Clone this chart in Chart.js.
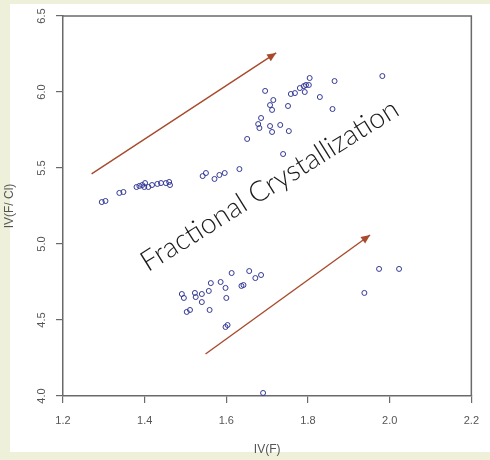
<!DOCTYPE html>
<html lang="en">
<head>
  <meta charset="UTF-8" />
  <title>Fractional Crystallization</title>
  <script src="https://cdn.jsdelivr.net/npm/chart.js"></script>
  <style>
    body { margin: 0; background: #eef0da; }
    canvas { display: block; }
  </style>
</head>
<body>
  <canvas id="chart" width="490" height="460"></canvas>

  <script>
    // tick labels
    const xTicks = [1.2, 1.4, 1.6, 1.8, 2.0, 2.2];
    const yTicks = [4.0, 4.5, 5.0, 5.5, 6.0, 6.5];

    // IV(F) and IV(F/Cl)
    const ivF = [
      1.295, 1.304, 1.338, 1.348, 1.380, 1.387, 1.394, 1.401, 1.399, 1.409, 1.418,
      1.431, 1.440, 1.452, 1.460, 1.462, 1.542, 1.550, 1.571, 1.583, 1.596, 1.632,
      1.651, 1.678, 1.681, 1.685, 1.695, 1.707, 1.715, 1.712, 1.707, 1.712, 1.732,
      1.739, 1.751, 1.753, 1.758, 1.768, 1.780, 1.790, 1.795, 1.802, 1.804, 1.792,
      1.829, 1.860, 1.865, 1.982,
      1.491, 1.496, 1.503, 1.511, 1.523, 1.525, 1.540, 1.540, 1.557, 1.559, 1.562,
      1.586, 1.598, 1.600, 1.598, 1.603, 1.613, 1.637, 1.642, 1.656, 1.671, 1.685,
      1.690, 1.938, 1.974, 2.023
    ];
    const ivFCl = [
      5.276, 5.283, 5.336, 5.342, 5.375, 5.382, 5.388, 5.401, 5.375, 5.375, 5.388,
      5.395, 5.401, 5.401, 5.408, 5.388, 5.447, 5.467, 5.428, 5.454, 5.467, 5.493,
      5.691, 5.789, 5.763, 5.829, 6.007, 5.914, 5.947, 5.882, 5.776, 5.737, 5.783,
      5.592, 5.908, 5.743, 5.987, 5.993, 6.026, 6.039, 6.046, 6.046, 6.092, 6.000,
      5.967, 5.888, 6.072, 6.105,
      4.671, 4.645, 4.553, 4.566, 4.678, 4.651, 4.671, 4.618, 4.691, 4.566, 4.743,
      4.750, 4.711, 4.645, 4.454, 4.467, 4.809, 4.724, 4.730, 4.822, 4.776, 4.796,
      4.020, 4.678, 4.836, 4.836
    ];

    // trend arrows (start, end)
    const arrowUpperX = [1.270, 1.722];
    const arrowUpperY = [5.461, 6.257];
    const arrowLowerX = [1.549, 1.952];
    const arrowLowerY = [4.276, 5.059];

    const noteText = "Fractional Crystallization";
    const noteX = 1.706, noteY = 5.385, noteAngle = -32;

    const arrowColor = '#a84a2c';
    const axisColor = '#6a6a6a';
    const labelColor = '#555';

    const toPoints = (xs, ys) => xs.map((x, i) => ({ x, y: ys[i] }));

    const extras = {
      id: 'extras',
      beforeDraw(chart) {
        const ctx = chart.ctx;
        ctx.save();
        ctx.fillStyle = '#ffffff';
        ctx.fillRect(10, 4, 480, 448);
        ctx.restore();
      },
      afterDatasetsDraw(chart) {
        const ctx = chart.ctx;
        // arrow heads
        [1, 2].forEach(i => {
          const pts = chart.getDatasetMeta(i).data;
          const a = pts[0], b = pts[1];
          const ang = Math.atan2(b.y - a.y, b.x - a.x);
          const len = 9, w = 4;
          ctx.save();
          ctx.fillStyle = arrowColor;
          ctx.translate(b.x, b.y);
          ctx.rotate(ang);
          ctx.beginPath();
          ctx.moveTo(0, 0);
          ctx.lineTo(-len, -w);
          ctx.lineTo(-len, w);
          ctx.closePath();
          ctx.fill();
          ctx.restore();
        });

        // annotation text
        const xs = chart.scales.x, ys = chart.scales.y;
        ctx.save();
        ctx.translate(xs.getPixelForValue(noteX), ys.getPixelForValue(noteY));
        ctx.rotate(noteAngle * Math.PI / 180);
        ctx.font = '300 24px Lato, "Open Sans", sans-serif';
        const wNow = ctx.measureText(noteText).width;
        const size = 24 * 298 / wNow;
        ctx.font = '300 ' + size.toFixed(1) + 'px Lato, "Open Sans", sans-serif';
        ctx.fillStyle = '#1a1a1a';
        ctx.textAlign = 'center';
        ctx.textBaseline = 'middle';
        ctx.fillText(noteText, 0, 0);
        ctx.restore();
      },
      afterDraw(chart) {
        const ctx = chart.ctx;
        const area = chart.chartArea;
        const ys = chart.scales.y;
        ctx.save();
        // top and right frame lines
        ctx.strokeStyle = axisColor;
        ctx.lineWidth = 1.5;
        ctx.beginPath();
        ctx.moveTo(area.left, area.top);
        ctx.lineTo(area.right, area.top);
        ctx.lineTo(area.right, area.bottom);
        ctx.stroke();

        // rotated y tick labels
        ctx.fillStyle = labelColor;
        ctx.font = '11px "Liberation Sans", Arial, sans-serif';
        ctx.textAlign = 'center';
        ctx.textBaseline = 'middle';
        yTicks.forEach(v => {
          ctx.save();
          ctx.translate(42, ys.getPixelForValue(v));
          ctx.rotate(-Math.PI / 2);
          ctx.fillText(v.toFixed(1), 0, 0);
          ctx.restore();
        });

        // axis titles
        ctx.font = '12px "Liberation Sans", Arial, sans-serif';
        ctx.fillText('IV(F)', (area.left + area.right) / 2, 450);
        ctx.save();
        ctx.translate(10, (area.top + area.bottom) / 2);
        ctx.rotate(-Math.PI / 2);
        ctx.fillText('IV(F/ Cl)', 0, 0);
        ctx.restore();
        ctx.restore();
      }
    };

    new Chart(document.getElementById('chart'), {
      type: 'scatter',
      data: {
        datasets: [
          {
            data: toPoints(ivF, ivFCl),
            pointStyle: 'circle',
            pointRadius: 2.5,
            borderColor: '#353a96',
            backgroundColor: 'rgba(0,0,0,0)',
            borderWidth: 1
          },
          {
            type: 'line',
            data: toPoints(arrowUpperX, arrowUpperY),
            borderColor: arrowColor,
            borderWidth: 1.4,
            pointRadius: 0
          },
          {
            type: 'line',
            data: toPoints(arrowLowerX, arrowLowerY),
            borderColor: arrowColor,
            borderWidth: 1.4,
            pointRadius: 0
          }
        ]
      },
      options: {
        responsive: false,
        animation: false,
        devicePixelRatio: 1,
        layout: { padding: { left: 0, right: 16, top: 16, bottom: 0 } },
        plugins: {
          legend: { display: false },
          tooltip: { enabled: false }
        },
        scales: {
          x: {
            type: 'linear',
            min: 1.2,
            max: 2.2,
            afterBuildTicks: s => { s.ticks = xTicks.map(v => ({ value: v })); },
            afterFit: s => { s.height = 64; },
            ticks: {
              callback: v => Number(v).toFixed(1),
              color: labelColor,
              font: { size: 11, family: '"Liberation Sans", Arial, sans-serif' },
              padding: 11,
              maxRotation: 0,
              autoSkip: false
            },
            grid: { drawOnChartArea: false, tickLength: 7, color: axisColor, lineWidth: 1.2 },
            border: { color: axisColor, width: 1.5 }
          },
          y: {
            type: 'linear',
            min: 4.0,
            max: 6.5,
            afterBuildTicks: s => { s.ticks = yTicks.map(v => ({ value: v })); },
            afterFit: s => { s.width = 63; },
            ticks: { display: false },
            grid: { drawOnChartArea: false, tickLength: 7, color: axisColor, lineWidth: 1.2 },
            border: { color: axisColor, width: 1.5 }
          }
        }
      },
      plugins: [extras]
    });
  </script>
</body>
</html>
